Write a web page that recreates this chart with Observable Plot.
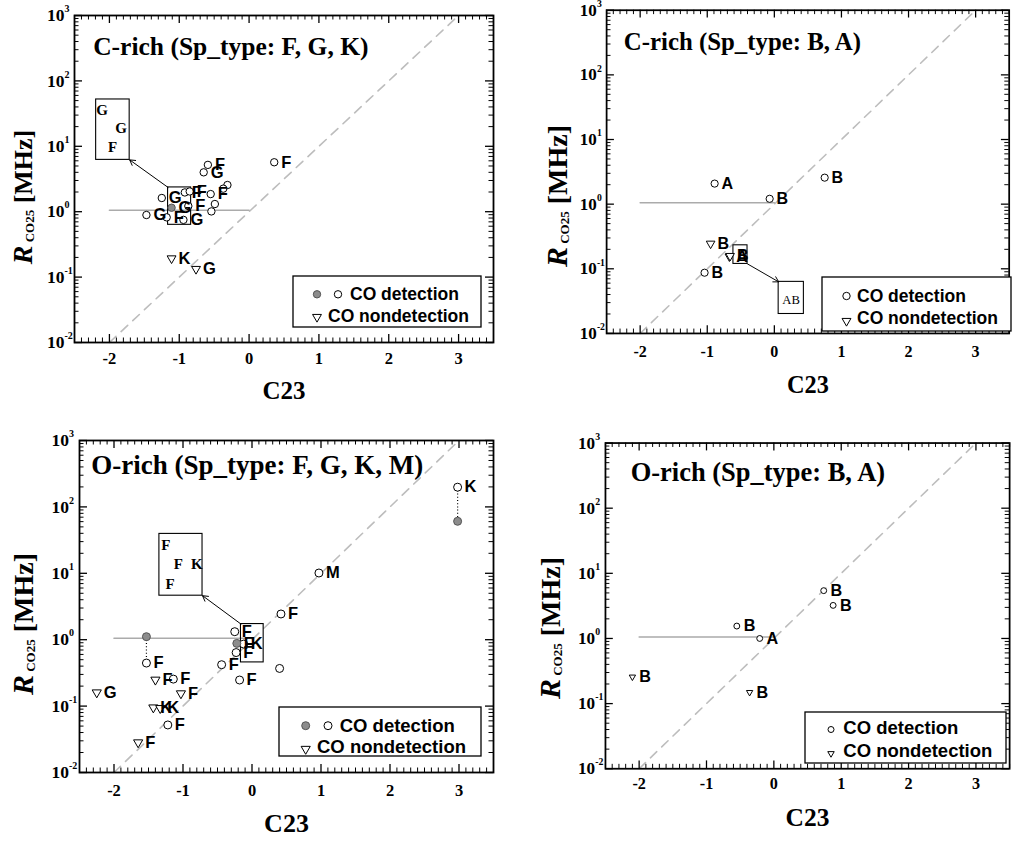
<!DOCTYPE html>
<html><head><meta charset="utf-8">
<script src="https://cdn.jsdelivr.net/npm/d3@7"></script>
<script src="https://cdn.jsdelivr.net/npm/@observablehq/plot@0.6"></script>
<style>
html,body{margin:0;padding:0;background:#fff;}
#page{position:relative;width:1016px;height:842px;overflow:hidden;background:#fff;}
.panel{position:absolute;}
.ylab{position:absolute;font-family:'Liberation Serif','Times New Roman',Times,serif;font-weight:bold;white-space:nowrap;transform:translate(-50%,-50%) rotate(-90deg);line-height:1;color:#000;}
</style></head>
<body><div id="page"></div>
<script>
// ---------- shared axis data ----------
const xDomain = [-2.5, 3.5];
const yDomain = [0.01, 1000];
const xMajor = [-2, -1, 0, 1, 2, 3];
const xTickLabels = ["-2", "-1", "0", "1", "2", "3"];
const yDecades = [0.01, 0.1, 1, 10, 100, 1000];
const yExp = ["-2", "-1", "0", "1", "2", "3"];
const xMinor = d3.range(-25, 36).map(i => i / 10).filter(v => !xMajor.some(m => Math.abs(m - v) < 1e-9));
const yMinor = yDecades.slice(0, -1).flatMap(d => d3.range(2, 10).map(m => m * d));
// reference lines: R = 10^C23 and the horizontal line at R ~ 1
const diagC23 = [-2, 3];
const diagR = [0.01, 1000];
const hLineC23 = [-2, 0];
const hLineR = [1.05, 1.05];

// ---------- Panel 1: C-rich (F, G, K) ----------
const cFGK_c23  = [0.36, -0.59, -0.65, -0.31, -0.37, -0.55, -0.49, -0.54, -0.92, -0.85, -1.25, -1.11, -0.87, -1.47, -1.18, -0.94, -1.11, -0.76];
const cFGK_R    = [5.7, 5.2, 4.0, 2.56, 2.25, 1.86, 1.31, 1.01, 1.97, 2.04, 1.62, 1.15, 1.22, 0.89, 0.82, 0.75, 0.193, 0.133];
const cFGK_type = ["F", "F", "G", "", "", "F", "", "", "F", "F", "G", "G", "F", "G", "F", "G", "K", "G"];
const cFGK_kind = ["o", "o", "o", "o", "o", "o", "o", "o", "o", "o", "o", "f", "o", "o", "o", "o", "u", "u"];
const cFGK_zoomBox = {x1: -1.16, x2: -0.83, y1: 0.63, y2: 2.35};
const cFGK_insetBox = {x1: -2.19, x2: -1.71, y1: 6.2, y2: 52};
const cFGK_insetC23 = [-2.105, -1.832, -1.953];
const cFGK_insetR = [35.6, 19, 9.7];
const cFGK_insetText = ["G", "G", "F"];
const cFGK_arrow = {x1: -1.16, y1: 2.35, x2: -1.71, y2: 6.2};

// ---------- Panel 2: C-rich (B, A) ----------
const cBA_c23  = [-0.89, -0.07, 0.75, -0.95, -0.67, -0.66, -1.04];
const cBA_R    = [2.08, 1.21, 2.57, 0.245, 0.155, 0.158, 0.087];
const cBA_type = ["A", "B", "B", "B", "A", "B", "B"];
const cBA_kind = ["o", "o", "o", "u", "u", "u", "o"];
const cBA_zoomBox = {x1: -0.61, x2: -0.40, y1: 0.119, y2: 0.231};
const cBA_insetBox = {x1: 0.064, x2: 0.44, y1: 0.02, y2: 0.0628};
const cBA_insetC23 = [0.25];
const cBA_insetR = [0.0335];
const cBA_insetText = ["AB"];
const cBA_arrow = {x1: -0.40, y1: 0.119, x2: 0.064, y2: 0.0628};

// ---------- Panel 3: O-rich (F, G, K, M) ----------
const oFGKM_c23  = [2.98, 2.98, 0.97, 0.42, -1.53, -1.53, -0.25, -0.22, -0.12, -0.23, -0.44, -0.18, 0.40, -1.40, -1.14, -1.03, -2.25, -1.43, -1.33, -1.22, -1.65];
const oFGKM_R    = [198, 60.7, 10.1, 2.44, 1.11, 0.445, 1.32, 0.88, 0.86, 0.64, 0.42, 0.247, 0.369, 0.249, 0.255, 0.155, 0.16, 0.095, 0.093, 0.052, 0.0283];
const oFGKM_type = ["K", "", "M", "F", "", "F", "F", "F", "K", "F", "F", "F", "", "F", "F", "F", "G", "K", "K", "F", "F"];
const oFGKM_kind = ["o", "f", "o", "o", "f", "o", "o", "f", "o", "o", "o", "o", "o", "u", "o", "u", "u", "u", "u", "o", "u"];
const oFGKM_linkC23 = [2.98, -1.53];
const oFGKM_linkHi = [198, 1.11];
const oFGKM_linkLo = [60.7, 0.445];
const oFGKM_zoomBox = {x1: -0.16, x2: 0.169, y1: 0.455, y2: 1.72};
const oFGKM_insetBox = {x1: -1.342, x2: -0.717, y1: 4.6, y2: 39.2};
const oFGKM_insetC23 = [-1.249, -1.066, -0.799, -1.186];
const oFGKM_insetR = [26.1, 13.5, 13.5, 6.9];
const oFGKM_insetText = ["F", "F", "K", "F"];
const oFGKM_arrow = {x1: -0.16, y1: 1.72, x2: -0.717, y2: 4.6};

// ---------- Panel 4: O-rich (B, A) ----------
const oBA_c23  = [0.74, 0.88, -0.55, -0.21, -2.10, -0.36];
const oBA_R    = [5.42, 3.22, 1.55, 1.0, 0.257, 0.149];
const oBA_type = ["B", "B", "B", "A", "B", "B"];
const oBA_kind = ["o", "o", "o", "o", "u", "u"];

// ---------- drawing ----------
const NS = "http://www.w3.org/2000/svg";
const page = document.getElementById("page");
const SERIF = "'Liberation Serif','Times New Roman',Times,serif";
const SANS = "'Liberation Sans',Arial,Helvetica,sans-serif";
const GRAYFILL = "#8c8c8c";

const TRI = { // downward-pointing triangle of given area
  draw(ctx, size) {
    const s = Math.sqrt(4 * size / Math.sqrt(3)), h = s * Math.sqrt(3) / 2;
    ctx.moveTo(-s / 2, -h / 3); ctx.lineTo(s / 2, -h / 3); ctx.lineTo(0, 2 * h / 3); ctx.closePath();
  }
};

function makePanel(cfg) {
  const fw = cfg.width - cfg.ml - cfg.mr, fh = cfg.height - cfg.mt - cfg.mb;
  const pts = cfg.c23.map((x, i) => ({x, y: cfg.R[i], t: cfg.type[i], k: cfg.kind[i]}));
  const txt = {fontFamily: SERIF, fontWeight: "bold"};
  const marks = [
    Plot.line(diagC23.map((x, i) => ({x, y: diagR[i]})), {x: "x", y: "y", stroke: "#bdbdbd", strokeWidth: 1.6, strokeDasharray: "9,7"}),
    Plot.line(hLineC23.map((x, i) => ({x, y: hLineR[i]})), {x: "x", y: "y", stroke: "#ababab", strokeWidth: 1.6}),
    // ticks, inward on all four sides
    Plot.ruleX(xMajor, {x: d => d, insetTop: fh - 8, stroke: "black", strokeWidth: 1.3}),
    Plot.ruleX(xMajor, {x: d => d, insetBottom: fh - 8, stroke: "black", strokeWidth: 1.3}),
    Plot.ruleX(xMinor, {x: d => d, insetTop: fh - 4.5, stroke: "black", strokeWidth: 1}),
    Plot.ruleX(xMinor, {x: d => d, insetBottom: fh - 4.5, stroke: "black", strokeWidth: 1}),
    Plot.ruleY(yDecades, {y: d => d, insetRight: fw - 8, stroke: "black", strokeWidth: 1.3}),
    Plot.ruleY(yDecades, {y: d => d, insetLeft: fw - 8, stroke: "black", strokeWidth: 1.3}),
    Plot.ruleY(yMinor, {y: d => d, insetRight: fw - 4.5, stroke: "black", strokeWidth: 1}),
    Plot.ruleY(yMinor, {y: d => d, insetLeft: fw - 4.5, stroke: "black", strokeWidth: 1}),
  ];
  if (cfg.linkC23) {
    marks.push(Plot.link(cfg.linkC23.map((x, i) => ({x, hi: cfg.linkHi[i], lo: cfg.linkLo[i]})),
      {x1: "x", x2: "x", y1: "hi", y2: "lo", stroke: "black", strokeWidth: 1.2, strokeDasharray: "1,2.2"}));
  }
  if (cfg.zoomBox) {
    marks.push(Plot.rect([cfg.zoomBox], {x1: "x1", x2: "x2", y1: "y1", y2: "y2", fill: "none", stroke: "black", strokeWidth: 1.1}));
    marks.push(Plot.rect([cfg.insetBox], {x1: "x1", x2: "x2", y1: "y1", y2: "y2", fill: "white", stroke: "black", strokeWidth: 1.1}));
    marks.push(Plot.arrow([cfg.arrow], {x1: "x1", y1: "y1", x2: "x2", y2: "y2", stroke: "black", strokeWidth: 1, headLength: 9}));
    marks.push(Plot.text(cfg.insetText.map((t, i) => ({t, x: cfg.insetC23[i], y: cfg.insetR[i]})),
      {x: "x", y: "y", text: "t", fontFamily: SERIF, fontWeight: cfg.insetWeight, fontSize: cfg.insetSize, lineAnchor: "middle"}));
  }
  marks.push(
    Plot.dot(pts.filter(d => d.k === "o"), {x: "x", y: "y", r: cfg.r, fill: "white", stroke: "black", strokeWidth: 1}),
    Plot.dot(pts.filter(d => d.k === "f"), {x: "x", y: "y", r: cfg.r, fill: GRAYFILL, stroke: "#555", strokeWidth: 1}),
    Plot.dot(pts.filter(d => d.k === "u"), {x: "x", y: "y", r: cfg.tr, symbol: TRI, fill: "white", stroke: "black", strokeWidth: 1}),
    Plot.text(pts.filter(d => d.t), {x: "x", y: "y", text: "t", dx: cfg.ldx, textAnchor: "start", lineAnchor: "middle",
      fontFamily: SANS, fontWeight: "bold", fontSize: 16.5}),
    Plot.frame({stroke: "black", strokeWidth: 1.8}),
    // title inside the frame
    Plot.text([cfg.title], {text: d => d, frameAnchor: "top-left", dx: cfg.tdx, dy: cfg.tdy, textAnchor: "start", lineAnchor: "middle", ...txt, fontSize: cfg.tsize}),
    // x tick labels and axis label
    Plot.text(xMajor, {x: d => d, text: (d, i) => xTickLabels[i], frameAnchor: "bottom", dy: cfg.xtdy, lineAnchor: "middle", ...txt, fontSize: 16.5}),
    Plot.text(["C23"], {text: d => d, frameAnchor: "bottom", dy: cfg.xldy, lineAnchor: "middle", ...txt, fontSize: cfg.xlsize}),
    // y tick labels 10^k
    Plot.text(yDecades, {y: d => d, text: () => "10", frameAnchor: "left", textAnchor: "end", dx: cfg.ytdx, lineAnchor: "middle", ...txt, fontSize: 17.5}),
    Plot.text(yDecades, {y: d => d, text: (d, i) => yExp[i], frameAnchor: "left", textAnchor: "start", dx: cfg.ytdx, dy: -6.5, lineAnchor: "middle", ...txt, fontSize: 10})
  );
  const svg = Plot.plot({
    width: cfg.width, height: cfg.height,
    marginLeft: cfg.ml, marginRight: cfg.mr, marginTop: cfg.mt, marginBottom: cfg.mb,
    x: {type: "linear", domain: xDomain, axis: null},
    y: {type: "log", domain: yDomain, axis: null},
    style: {background: "white", overflow: "visible"},
    marks
  });
  const wrap = document.createElement("div");
  wrap.className = "panel";
  wrap.style.left = cfg.left + "px"; wrap.style.top = cfg.top + "px";
  wrap.appendChild(svg);
  page.appendChild(wrap);

  // rotated y-axis label: R_CO25 [MHz]
  const yl = document.createElement("div");
  yl.className = "ylab";
  yl.style.left = cfg.ylx + "px"; yl.style.top = cfg.yly + "px";
  yl.style.fontSize = cfg.ylsize + "px";
  yl.innerHTML = `<span style="font-style:italic;font-size:${cfg.ylsize + 2}px">R</span><span style="font-size:13px;position:relative;top:2px"> CO25</span> [MHz]`;
  page.appendChild(yl);

  addLegend(cfg.legend, cfg.r, cfg.tr);
}

function el(name, attrs) {
  const e = document.createElementNS(NS, name);
  for (const k in attrs) e.setAttribute(k, attrs[k]);
  return e;
}

function addLegend(L, r, tr) {
  const svg = el("svg", {width: L.w + 4, height: L.h + 4});
  svg.style.cssText = `position:absolute;left:${L.left - 2}px;top:${L.top - 2}px;`;
  svg.appendChild(el("rect", {x: 2, y: 2, width: L.w, height: L.h, fill: "white", stroke: "black", "stroke-width": 1.3}));
  const tri = d3.symbol(TRI, Math.PI * tr * tr)();
  for (const row of L.rows) {
    for (const [k, x, y] of row.syms) {
      if (k === "u") svg.appendChild(el("path", {d: tri, transform: `translate(${x + 2},${y + 2})`, fill: "white", stroke: "black"}));
      else svg.appendChild(el("circle", {cx: x + 2, cy: y + 2, r, fill: k === "f" ? GRAYFILL : "white", stroke: k === "f" ? "#555" : "black"}));
    }
    const t = el("text", {x: row.tx + 2, y: row.ty + 2, "dominant-baseline": "central", "font-family": SANS, "font-weight": "bold", "font-size": L.font});
    t.textContent = row.text;
    svg.appendChild(t);
  }
  page.appendChild(svg);
}

makePanel({
  left: 0, top: 0, width: 500, height: 420, ml: 74, mr: 7, mt: 15, mb: 78,
  c23: cFGK_c23, R: cFGK_R, type: cFGK_type, kind: cFGK_kind, r: 3.7, tr: 3.3, ldx: 7,
  zoomBox: cFGK_zoomBox, insetBox: cFGK_insetBox, insetC23: cFGK_insetC23, insetR: cFGK_insetR, insetText: cFGK_insetText,
  insetWeight: "bold", insetSize: 15, arrow: cFGK_arrow,
  title: "C-rich (Sp_type: F, G, K)", tdx: 18.7, tdy: 31, tsize: 25.5,
  xtdy: 16, xldy: 48.7, xlsize: 25, ytdx: -10,
  ylx: 23, yly: 197, ylsize: 26,
  legend: {left: 293, top: 276, w: 188, h: 51, font: 17.5, rows: [
    {syms: [["f", 24, 18.3], ["o", 45, 18.3]], text: "CO detection", tx: 57, ty: 18},
    {syms: [["u", 24, 41]], text: "CO nondetection", tx: 35, ty: 40}]}
});

makePanel({
  left: 500, top: 0, width: 530, height: 420, ml: 109, mr: 7.5, mt: 10, mb: 78,
  c23: cBA_c23, R: cBA_R, type: cBA_type, kind: cBA_kind, r: 3.7, tr: 3.3, ldx: 7,
  zoomBox: cBA_zoomBox, insetBox: cBA_insetBox, insetC23: cBA_insetC23, insetR: cBA_insetR, insetText: cBA_insetText,
  insetWeight: "normal", insetSize: 13, arrow: cBA_arrow,
  title: "C-rich (Sp_type: B, A)", tdx: 17.7, tdy: 33, tsize: 25.5,
  xtdy: 18.5, xldy: 53, xlsize: 25, ytdx: -10,
  ylx: 557, yly: 196, ylsize: 28,
  legend: {left: 822, top: 277, w: 189, h: 54, font: 17.5, rows: [
    {syms: [["o", 24.5, 19]], text: "CO detection", tx: 35, ty: 18.5},
    {syms: [["u", 24.5, 44]], text: "CO nondetection", tx: 35, ty: 41}]}
});

makePanel({
  left: 0, top: 420, width: 500, height: 422, ml: 79, mr: 7, mt: 20, mb: 70,
  c23: oFGKM_c23, R: oFGKM_R, type: oFGKM_type, kind: oFGKM_kind, r: 4, tr: 3.4, ldx: 7,
  linkC23: oFGKM_linkC23, linkHi: oFGKM_linkHi, linkLo: oFGKM_linkLo,
  zoomBox: oFGKM_zoomBox, insetBox: oFGKM_insetBox, insetC23: oFGKM_insetC23, insetR: oFGKM_insetR, insetText: oFGKM_insetText,
  insetWeight: "bold", insetSize: 15, arrow: oFGKM_arrow,
  title: "O-rich (Sp_type: F, G, K, M)", tdx: 11.7, tdy: 25, tsize: 27,
  xtdy: 18, xldy: 51, xlsize: 26, ytdx: -10.5,
  ylx: 23, yly: 624, ylsize: 28,
  legend: {left: 279, top: 707, w: 202, h: 49, font: 18.5, rows: [
    {syms: [["f", 26.7, 18.7], ["o", 49, 18.7]], text: "CO detection", tx: 60.7, ty: 18.7},
    {syms: [["u", 26.7, 42]], text: "CO nondetection", tx: 38, ty: 39.4}]}
});

makePanel({
  left: 500, top: 420, width: 526, height: 422, ml: 107, mr: 7, mt: 23, mb: 67,
  c23: oBA_c23, R: oBA_R, type: oBA_type, kind: oBA_kind, r: 3, tr: 2.4, ldx: 7,
  title: "O-rich (Sp_type: B, A)", tdx: 25.7, tdy: 30, tsize: 27,
  xtdy: 15, xldy: 50, xlsize: 26, ytdx: -10.5,
  ylx: 550, yly: 628, ylsize: 28,
  legend: {left: 805, top: 712, w: 201, h: 51, font: 18.5, rows: [
    {syms: [["o", 26, 17.5]], text: "CO detection", tx: 38.3, ty: 15},
    {syms: [["u", 26, 41.5]], text: "CO nondetection", tx: 38.3, ty: 38}]}
});
</script>
</body></html>
